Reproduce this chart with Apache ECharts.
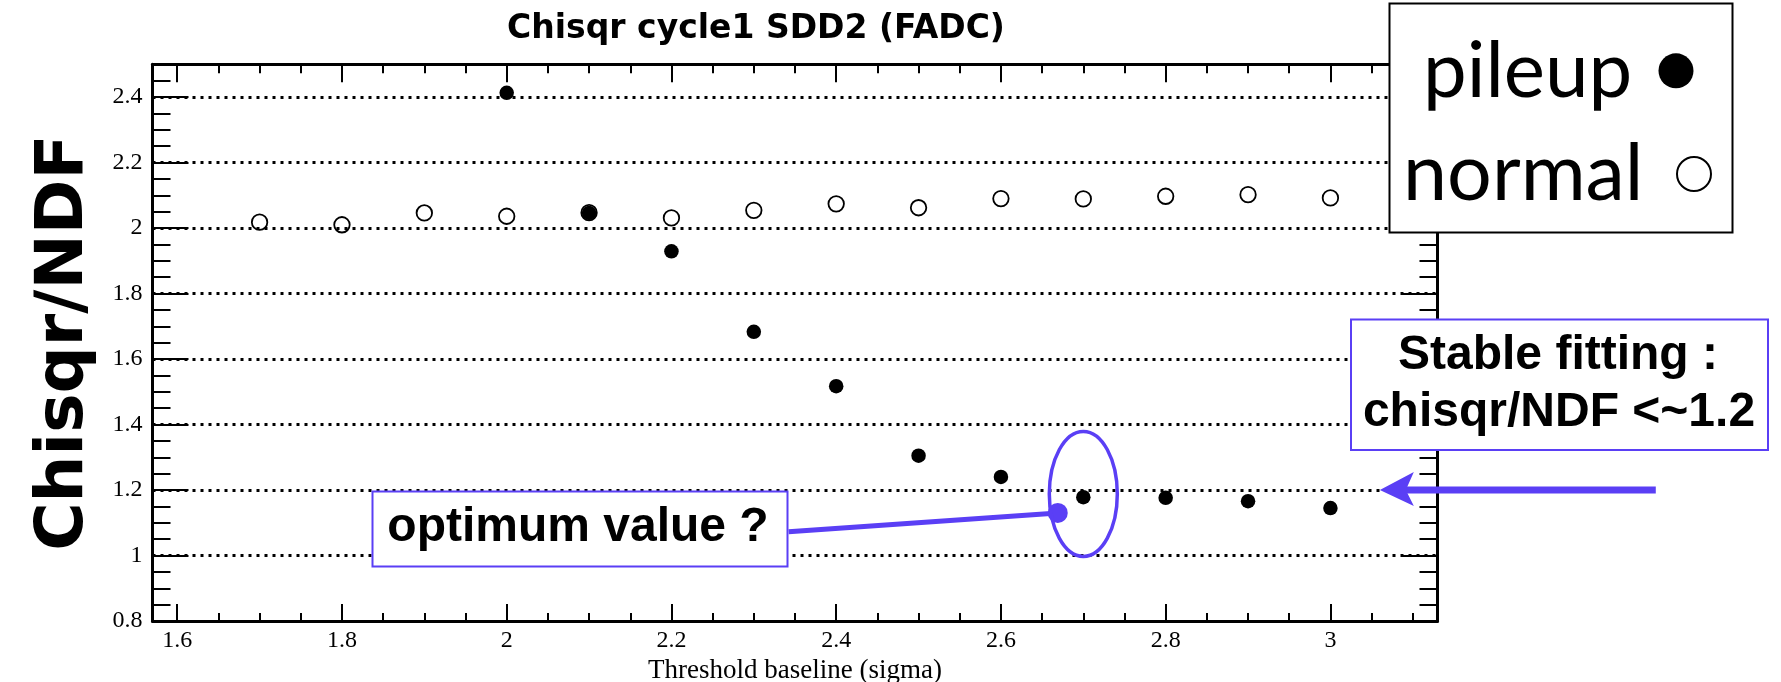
<!DOCTYPE html>
<html>
<head>
<meta charset="utf-8">
<script src="https://cdn.jsdelivr.net/npm/echarts@6/dist/echarts.min.js"></script>
<style>
html,body{margin:0;padding:0;background:#fff;}
#c{width:1781px;height:682px;}
</style>
</head>
<body>
<div id="c"></div>
<script>
// ---- data ----
const thresholds = [1.7, 1.8, 1.9, 2.0, 2.1, 2.2, 2.3, 2.4, 2.5, 2.6, 2.7, 2.8, 2.9, 3.0];
const normalChi  = [2.018, 2.010, 2.046, 2.036, 2.047, 2.031, 2.054, 2.074, 2.062, 2.090, 2.089, 2.097, 2.102, 2.092];
const pileupThr  = [2.0, 2.1, 2.2, 2.3, 2.4, 2.5, 2.6, 2.7, 2.8, 2.9, 3.0];
const pileupChi  = [2.413, 2.046, 1.929, 1.683, 1.517, 1.305, 1.240, 1.178, 1.176, 1.166, 1.145];
const xRange = [1.57, 3.13];
const yRange = [0.8, 2.5];
const seriesNames = ['normal', 'pileup'];
const titleText = 'Chisqr cycle1 SDD2 (FADC)';
const xName = 'Threshold baseline (sigma)';
const yName = 'Chisqr/NDF';
// annotation anchors (data coordinates)
const optimumPoint = [2.669, 1.130];
const ellipseCenter = [2.700, 1.188];
const stableLevel = 1.2;
const arrowTipX = 3.06;
const arrowTailX = 3.395;

const BLUE = '#5a3ff5';
const chart = echarts.init(document.getElementById('c'), null, {renderer: 'canvas'});

const tickStyle = {color: '#000', width: 2};
const axisLineStyle = {color: '#000', width: 3};

function xAxisDef(pos, showLabel, majorLen, minorLen) {
  return {
    type: 'value', position: pos, min: xRange[0], max: xRange[1],
    minInterval: 0.2, maxInterval: 0.2,
    axisLine: {show: true, onZero: false, lineStyle: axisLineStyle},
    axisTick: {show: true, inside: true, length: majorLen, lineStyle: tickStyle},
    minorTick: {show: true, splitNumber: 4, length: minorLen, lineStyle: tickStyle},
    splitLine: {show: false}, minorSplitLine: {show: false},
    axisLabel: {show: showLabel, showMinLabel: false, showMaxLabel: false, margin: 8,
      fontFamily: 'Liberation Serif', fontSize: 24, color: '#000'},
    name: showLabel ? xName : '', nameLocation: 'middle', nameGap: 26,
    nameTextStyle: {fontFamily: 'Liberation Serif', fontSize: 27, color: '#000'}
  };
}
function yAxisDef(pos, showLabel) {
  return {
    type: 'value', position: pos, min: yRange[0], max: yRange[1], interval: 0.2,
    axisLine: {show: true, onZero: false, lineStyle: axisLineStyle},
    axisTick: {show: true, inside: true, length: 36, lineStyle: tickStyle},
    minorTick: {show: true, splitNumber: 4, length: 18, lineStyle: tickStyle},
    splitLine: {show: showLabel, showMinLine: false, showMaxLine: false,
      lineStyle: {color: '#000', width: 3, type: [3, 5]}},
    minorSplitLine: {show: false},
    axisLabel: {show: showLabel, showMaxLabel: false, margin: 10,
      fontFamily: 'Liberation Serif', fontSize: 24, color: '#000'},
    name: showLabel ? yName : '', nameLocation: 'middle', nameGap: 55, nameRotate: 90,
    nameTextStyle: {fontFamily: 'DejaVu Sans', fontWeight: 'bold', fontSize: 66, color: '#000'}
  };
}

chart.setOption({
  animation: false,
  backgroundColor: '#fff',
  title: {
    text: titleText, left: 756, top: 13, padding: 0, textAlign: 'center',
    textStyle: {fontFamily: 'DejaVu Sans', fontWeight: 'bold', fontSize: 33, color: '#000'}
  },
  grid: {left: 152.5, right: 343.5, top: 64.3, bottom: 61, show: false,
         containLabel: false, outerBoundsMode: 'none'},
  xAxis: [xAxisDef('bottom', true, 17, 8), xAxisDef('top', false, 18, 9)],
  yAxis: [yAxisDef('left', true), yAxisDef('right', false)],
  series: [
    {
      name: seriesNames[0], type: 'scatter', xAxisIndex: 0, yAxisIndex: 0,
      symbol: 'circle', symbolSize: 15.5, silent: true, z: 3,
      itemStyle: {color: 'rgba(255,255,255,0)', borderColor: '#000', borderWidth: 1.8, opacity: 1},
      data: thresholds.map((t, i) => [t, normalChi[i]])
    },
    {
      name: seriesNames[1], type: 'scatter', xAxisIndex: 0, yAxisIndex: 0,
      symbol: 'circle', symbolSize: 14.5, silent: true, z: 4,
      itemStyle: {color: '#000', opacity: 1},
      data: pileupThr.map((t, i) => [t, pileupChi[i]])
    }
  ]
});

function px(p) { return chart.convertToPixel({seriesIndex: 0}, p); }
const dot = px(optimumPoint);
const ell = px(ellipseCenter);
const tip = px([arrowTipX, stableLevel]);
const tail = px([arrowTailX, stableLevel]);

const Z = 100;
const graphics = [
  // legend box
  {type: 'rect', z: Z, shape: {x: 1389.5, y: 3.5, width: 343, height: 229},
   style: {fill: '#fff', stroke: '#000', lineWidth: 2}},
  {type: 'text', z: Z + 1, x: 1423, y: 72,
   style: {text: 'pileup', fontFamily: 'Lato', fontSize: 78, fill: '#000', align: 'left', verticalAlign: 'middle'}},
  {type: 'text', z: Z + 1, x: 1403, y: 175,
   style: {text: 'normal', fontFamily: 'Lato', fontSize: 79, fill: '#000', align: 'left', verticalAlign: 'middle'}},
  {type: 'circle', z: Z + 1, shape: {cx: 1676, cy: 70.8, r: 17.5}, style: {fill: '#000'}},
  {type: 'circle', z: Z + 1, shape: {cx: 1694, cy: 174, r: 17}, style: {fill: '#fff', stroke: '#000', lineWidth: 2}},
  // optimum value box
  {type: 'line', z: Z, shape: {x1: 788.6, y1: 531.7, x2: dot[0], y2: dot[1]},
   style: {stroke: BLUE, lineWidth: 5}},
  {type: 'circle', z: Z, shape: {cx: dot[0], cy: dot[1], r: 10}, style: {fill: BLUE}},
  {type: 'rect', z: Z + 1, shape: {x: 372.5, y: 491.5, width: 415, height: 75},
   style: {fill: '#fff', stroke: BLUE, lineWidth: 2}},
  {type: 'text', z: Z + 2, x: 578, y: 527.4,
   style: {text: 'optimum value ?', fontFamily: 'Liberation Sans', fontWeight: 'bold', fontSize: 48,
           fill: '#000', align: 'center', verticalAlign: 'middle'}},
  {type: 'ellipse', z: Z, shape: {cx: ell[0], cy: ell[1], rx: 34, ry: 62.5},
   style: {fill: null, stroke: BLUE, lineWidth: 3.5}},
  // stable fitting box
  {type: 'rect', z: Z, shape: {x: 1351, y: 319.5, width: 417, height: 130.5},
   style: {fill: '#fff', stroke: BLUE, lineWidth: 2}},
  {type: 'text', z: Z + 1, x: 1558, y: 356.1,
   style: {text: 'Stable fitting :', fontFamily: 'Liberation Sans', fontWeight: 'bold', fontSize: 48,
           fill: '#000', align: 'center', verticalAlign: 'middle'}},
  {type: 'text', z: Z + 1, x: 1559, y: 412.7,
   style: {text: 'chisqr/NDF <~1.2', fontFamily: 'Liberation Sans', fontWeight: 'bold', fontSize: 48,
           fill: '#000', align: 'center', verticalAlign: 'middle'}},
  // arrow
  {type: 'line', z: Z, shape: {x1: tail[0], y1: tail[1], x2: tip[0] + 24, y2: tip[1]},
   style: {stroke: BLUE, lineWidth: 7}},
  {type: 'polygon', z: Z, shape: {points: [[tip[0], tip[1]], [tip[0] + 34, tip[1] - 18],
     [tip[0] + 26, tip[1]], [tip[0] + 34, tip[1] + 16]]}, style: {fill: BLUE}}
];
chart.setOption({graphic: graphics});
</script>
</body>
</html>
